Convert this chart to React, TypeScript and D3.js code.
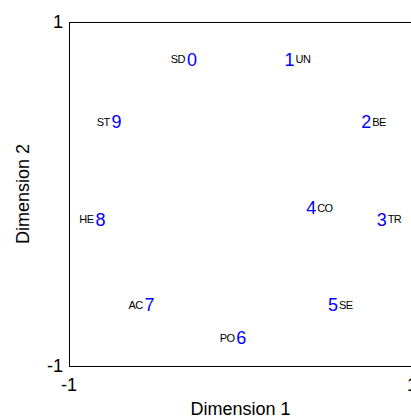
import React, { useEffect, useRef } from 'react';
import * as d3 from 'd3';

// MDS-style configuration: numbered points with short category labels
const ids = ['0', '1', '2', '3', '4', '5', '6', '7', '8', '9'];
const codes = ['SD', 'UN', 'BE', 'TR', 'CO', 'SE', 'PO', 'AC', 'HE', 'ST'];
const dim1 = [-0.283, 0.286, 0.733, 0.823, 0.412, 0.540, 0.005, -0.530, -0.817, -0.723];
const dim2 = [0.784, 0.784, 0.419, -0.147, -0.081, -0.645, -0.837, -0.645, -0.147, 0.419];
// label side: -1 left of the number, 1 right of it
const sides = [-1, 1, 1, 1, 1, 1, -1, -1, -1, -1];
const xTicks = [-1, 1];
const yTicks = [-1, 1];

export default function App() {
    const svgRef = useRef<SVGSVGElement | null>(null);

    useEffect(() => {
        if (!svgRef.current) return;
        const W = 411, H = 416;
        const left = 69, right = 412, top = 22, bottom = 366;

        const svg = d3.select(svgRef.current);
        svg.selectAll('*').remove();
        svg.attr('width', W).attr('height', H);

        const x = d3.scaleLinear().domain([-1, 1]).range([left, right]);
        const y = d3.scaleLinear().domain([-1, 1]).range([bottom, top]);
        const font = 'Arial, "Liberation Sans", sans-serif';

        // frame
        svg.append('rect')
            .attr('x', left + 0.5).attr('y', top + 0.5)
            .attr('width', right - left).attr('height', bottom - top)
            .attr('fill', 'none').attr('stroke', '#000').attr('stroke-width', 1);

        const tickLen = 10;
        const ticks = svg.append('g').attr('stroke', '#000').attr('stroke-width', 1);
        xTicks.forEach(t => {
            const px = Math.round(x(t)) + 0.5;
            ticks.append('line').attr('x1', px).attr('x2', px)
                .attr('y1', bottom + 0.5).attr('y2', bottom + 0.5 - tickLen);
            ticks.append('line').attr('x1', px).attr('x2', px)
                .attr('y1', top + 0.5).attr('y2', top + 0.5 + tickLen);
        });
        yTicks.forEach(t => {
            const py = Math.round(y(t)) + 0.5;
            ticks.append('line').attr('y1', py).attr('y2', py)
                .attr('x1', left + 0.5).attr('x2', left + 0.5 + tickLen);
            ticks.append('line').attr('y1', py).attr('y2', py)
                .attr('x1', right + 0.5).attr('x2', right + 0.5 - tickLen);
        });

        // tick labels
        svg.append('g').selectAll('text').data(xTicks).enter().append('text')
            .attr('x', d => x(d)).attr('y', bottom + 25)
            .attr('text-anchor', 'middle')
            .style('font-family', font).style('font-size', '18px')
            .text(d => String(d));

        svg.append('g').selectAll('text').data(yTicks).enter().append('text')
            .attr('x', left - 6).attr('y', d => y(d) + 6)
            .attr('text-anchor', 'end')
            .style('font-family', font).style('font-size', '18px')
            .text(d => String(d));

        // axis titles
        svg.append('text')
            .attr('x', (left + right) / 2).attr('y', 415)
            .attr('text-anchor', 'middle')
            .style('font-family', font).style('font-size', '18px')
            .text('Dimension 1');

        svg.append('text')
            .attr('transform', `translate(29,${(top + bottom) / 2}) rotate(-90)`)
            .attr('text-anchor', 'middle')
            .style('font-family', font).style('font-size', '18px')
            .text('Dimension 2');

        // points
        const pts = ids.map((id, i) => ({ id, code: codes[i], d1: dim1[i], d2: dim2[i], side: sides[i] }));
        const g = svg.append('g').selectAll('g').data(pts).enter().append('g')
            .attr('transform', d => `translate(${x(d.d1)},${y(d.d2)})`);

        g.append('text')
            .attr('x', 0).attr('y', 6.5)
            .attr('text-anchor', 'middle')
            .attr('fill', '#0000ff')
            .style('font-family', font).style('font-size', '18px')
            .text(d => d.id);

        g.append('text')
            .attr('x', d => d.side < 0 ? -7 : 6)
            .attr('y', 4)
            .attr('text-anchor', d => d.side < 0 ? 'end' : 'start')
            .attr('fill', '#000')
            .style('font-family', font).style('font-size', '11px')
            .style('letter-spacing', '-0.6px')
            .text(d => d.code);
    }, []);

    return (
        <svg
            ref={svgRef}
            style={{ position: 'absolute', left: 0, top: 0, overflow: 'hidden', background: '#fff' }}
        />
    );
}
